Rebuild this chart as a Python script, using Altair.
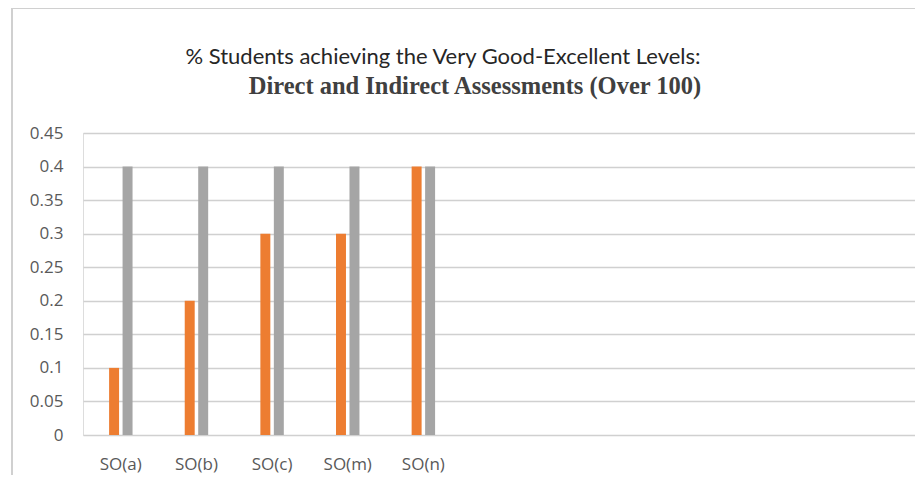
import altair as alt
import pandas as pd

# ---- data ----
categories = ["SO(a)", "SO(b)", "SO(c)", "SO(m)", "SO(n)"]
empty_slots = ["_1", "_2", "_3", "_4", "_5", "_6"]
series_names = ["Direct", "Indirect"]
direct_values = [0.1, 0.2, 0.3, 0.3, 0.4]
indirect_values = [0.4, 0.4, 0.4, 0.4, 0.4]
y_ticks = [0, 0.05, 0.1, 0.15, 0.2, 0.25, 0.3, 0.35, 0.4, 0.45]
series_colors = ["#ED7D31", "#A5A5A5"]

title_line1 = "% Students achieving the Very Good-Excellent Levels:" + "\u2800" * 4
title_line2 = "Direct and Indirect Assessments (Over 100)"

rows = []
for c, d, i in zip(categories, direct_values, indirect_values):
    rows.append({"category": c, "series": series_names[0], "value": d})
    rows.append({"category": c, "series": series_names[1], "value": i})
df = pd.DataFrame(rows)

label_font = "Open Sans"
label_color = "#595959"

bars = (
    alt.Chart(df)
    .mark_bar()
    .encode(
        x=alt.X(
            "category:N",
            scale=alt.Scale(domain=categories + empty_slots, paddingInner=0.69, paddingOuter=0.345),
            axis=alt.Axis(
                title=None,
                labelAngle=0,
                labelExpr="substring(datum.label,0,1)=='_' ? '' : datum.label",
                domain=False,
                ticks=False,
                labelPadding=21,
                labelFont=label_font,
                labelFontSize=17,
                labelColor=label_color,
            ),
        ),
        xOffset=alt.XOffset(
            "series:N",
            sort=series_names,
            scale=alt.Scale(domain=series_names, paddingInner=0.26, paddingOuter=0),
        ),
        y=alt.Y(
            "value:Q",
            scale=alt.Scale(domain=[0, 0.45], nice=False),
            axis=alt.Axis(
                title=None,
                values=y_ticks,
                format="~g",
                domain=False,
                ticks=False,
                labelPadding=20,
                labelFont=label_font,
                labelFontSize=17,
                labelColor=label_color,
                gridColor="#d0d0d0",
                gridWidth=1.5,
            ),
        ),
        color=alt.Color(
            "series:N",
            scale=alt.Scale(domain=series_names, range=series_colors),
            legend=None,
        ),
    )
)

# chart-area frame (decoration, like the spreadsheet chart border)
frame = (
    alt.Chart(pd.DataFrame({"k": [0]}))
    .mark_rect(fill=None, stroke="#d0d0d0", strokeWidth=2, clip=False)
    .encode(x=alt.value(-71), x2=alt.value(900), y=alt.value(-125), y2=alt.value(400))
)

chart = (
    alt.layer(frame, bars)
    .properties(
        width=832,
        height=302,
        autosize=alt.AutoSizeParams(type="none"),
        padding={"left": 75, "top": 125, "right": 0, "bottom": 40},
        title=alt.TitleParams(
            text=title_line1,
            subtitle=title_line2,
            anchor="middle",
            frame="group",
            dx=-24,
            offset=-92,
            font="Lato",
            fontSize=22,
            fontWeight="normal",
            color="#262626",
            subtitleFont="Liberation Serif",
            subtitleFontSize=24.5,
            subtitleFontWeight="bold",
            subtitleColor="#404040",
            subtitlePadding=6,
        ),
    )
    .configure_view(stroke=None)
    .configure(background="white")
)

chart.save("out.html", embed_options={"renderer": "svg", "actions": False})
